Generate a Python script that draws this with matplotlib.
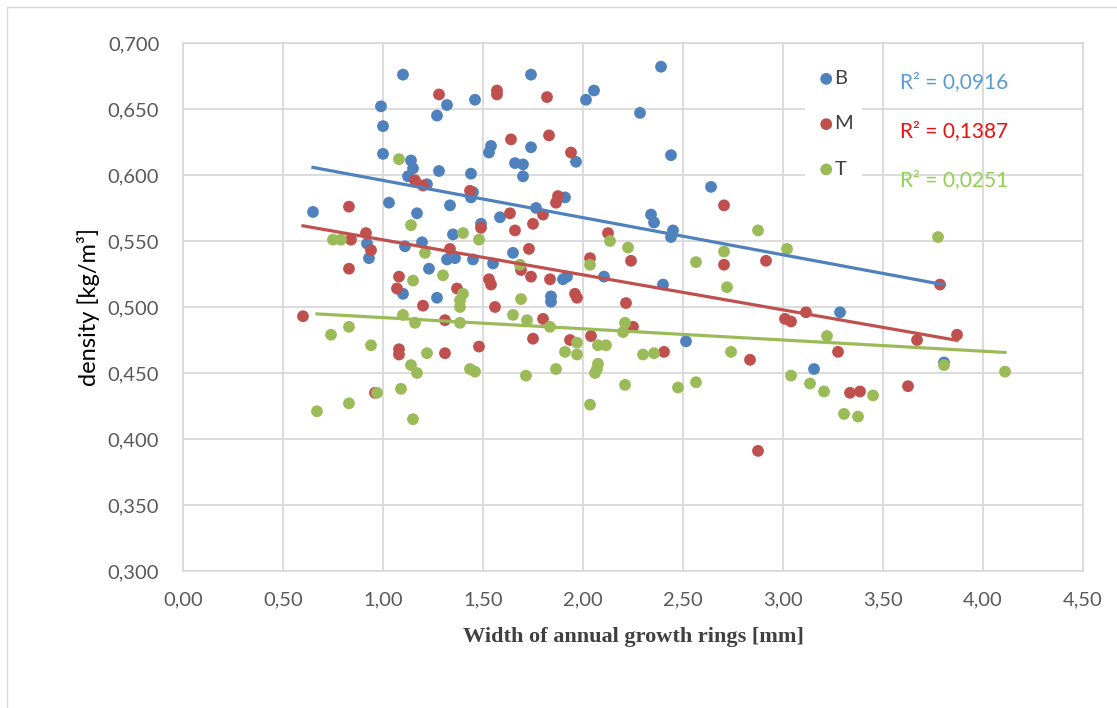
import numpy as np
import matplotlib

matplotlib.use('Agg')
import matplotlib.pyplot as plt
from matplotlib.ticker import FuncFormatter, MultipleLocator
from matplotlib.lines import Line2D

# ring width [mm] / density values
b_x = [0.65, 1.10, 0.99, 1.00, 1.00, 1.32, 1.27, 1.46, 1.14, 1.15, 1.28, 1.44, 1.125, 1.22,
       1.45, 1.44, 1.54, 1.53, 1.03, 1.335, 1.17, 1.49, 1.35, 0.92, 0.93, 1.11, 1.195, 1.32,
       1.36, 1.45, 1.23, 1.10, 1.27, 1.74, 2.015, 2.055, 2.39, 2.285, 1.74, 1.965, 2.44, 1.66,
       1.70, 1.70, 2.64, 1.91, 1.765, 1.585, 2.34, 2.355, 2.45, 2.44, 1.65, 1.55, 2.105, 2.40,
       1.90, 1.92, 1.84, 1.84, 2.515, 3.155, 3.285, 3.805]
b_y = [0.572, 0.676, 0.652, 0.637, 0.616, 0.653, 0.645, 0.657, 0.611, 0.605, 0.603, 0.601, 0.599, 0.593,
       0.587, 0.583, 0.622, 0.617, 0.579, 0.577, 0.571, 0.563, 0.555, 0.548, 0.537, 0.546, 0.549, 0.536,
       0.537, 0.536, 0.529, 0.510, 0.507, 0.676, 0.657, 0.664, 0.682, 0.647, 0.621, 0.610, 0.615, 0.609,
       0.608, 0.599, 0.591, 0.583, 0.575, 0.568, 0.570, 0.564, 0.558, 0.553, 0.541, 0.533, 0.523, 0.517,
       0.521, 0.523, 0.508, 0.504, 0.474, 0.453, 0.496, 0.458]

m_x = [1.28, 1.16, 1.20, 1.435, 0.83, 1.49, 0.84, 0.915, 0.94, 1.335, 0.83, 1.08, 1.07, 1.20,
       1.37, 1.53, 0.60, 1.31, 1.08, 1.08, 1.31, 1.48, 0.96, 1.57, 1.57, 1.82, 1.64, 1.83,
       1.94, 1.875, 1.865, 2.705, 1.80, 1.635, 1.66, 1.75, 2.125, 1.73, 2.035, 2.24, 2.705, 2.915,
       1.54, 1.74, 1.835, 1.69, 1.96, 1.97, 1.56, 1.80, 1.75, 2.215, 2.25, 2.04, 1.935, 2.405,
       2.835, 2.875, 3.01, 3.04, 3.115, 3.785, 3.275, 3.67, 3.87, 3.335, 3.385, 3.625]
m_y = [0.661, 0.596, 0.592, 0.588, 0.576, 0.560, 0.551, 0.556, 0.543, 0.544, 0.529, 0.523, 0.514, 0.501,
       0.514, 0.521, 0.493, 0.490, 0.468, 0.464, 0.465, 0.470, 0.435, 0.664, 0.661, 0.659, 0.627, 0.630,
       0.617, 0.584, 0.579, 0.577, 0.570, 0.571, 0.558, 0.563, 0.556, 0.544, 0.537, 0.535, 0.532, 0.535,
       0.517, 0.523, 0.521, 0.528, 0.510, 0.507, 0.500, 0.491, 0.476, 0.503, 0.485, 0.478, 0.475, 0.466,
       0.460, 0.391, 0.491, 0.489, 0.496, 0.517, 0.466, 0.475, 0.479, 0.435, 0.436, 0.440]

t_x = [1.08, 1.14, 1.40, 1.48, 0.75, 0.79, 1.21, 1.15, 1.30, 1.40, 1.385, 1.385, 1.10, 1.16,
       1.385, 0.83, 0.74, 0.94, 1.22, 1.14, 1.17, 1.435, 1.46, 0.97, 1.09, 0.83, 0.67, 1.15,
       2.875, 2.135, 2.225, 2.705, 3.02, 2.565, 2.035, 1.685, 1.69, 1.65, 1.72, 1.835, 2.21, 2.20,
       1.97, 1.91, 1.97, 2.075, 2.115, 2.075, 2.07, 2.06, 2.30, 2.355, 2.74, 1.715, 1.865, 2.21,
       2.475, 2.565, 2.035, 3.04, 3.135, 2.72, 3.775, 3.22, 3.805, 4.11, 3.205, 3.45, 3.305, 3.375]
t_y = [0.612, 0.562, 0.556, 0.551, 0.551, 0.551, 0.541, 0.520, 0.524, 0.510, 0.505, 0.500, 0.494, 0.488,
       0.488, 0.485, 0.479, 0.471, 0.465, 0.456, 0.450, 0.453, 0.451, 0.435, 0.438, 0.427, 0.421, 0.415,
       0.558, 0.550, 0.545, 0.542, 0.544, 0.534, 0.532, 0.532, 0.506, 0.494, 0.490, 0.485, 0.488, 0.481,
       0.473, 0.466, 0.464, 0.471, 0.471, 0.457, 0.453, 0.450, 0.464, 0.465, 0.466, 0.448, 0.453, 0.441,
       0.439, 0.443, 0.426, 0.448, 0.442, 0.515, 0.553, 0.478, 0.456, 0.451, 0.436, 0.433, 0.419, 0.417]

series = ["B", "M", "T"]
r2_labels = ["R² = 0,0916", "R² = 0,1387", "R² = 0,0251"]
colors = ["#4F81BD", "#C0504D", "#9BBB59"]
r2_colors = ["#5B9BD5", "#E81010", "#92D050"]
SANS = ["Lato", "DejaVu Sans"]

fig = plt.figure(figsize=(11.17, 7.08), dpi=100)
# outer chart border (only top and left edges are visible in the source)
fig.lines.append(Line2D([0.0063, 0.0063, 1.0], [0.0, 0.99, 0.99], transform=fig.transFigure,
                        color="#d9d9d9", linewidth=1))
ax = fig.add_axes([0.1638, 0.1935, 0.9696 - 0.1638, 0.9393 - 0.1935])

data = [(b_x, b_y), (m_x, m_y), (t_x, t_y)]
for (xs, ys), name, col in zip(data, series, colors):
    ax.scatter(xs, ys, s=72, color=col, edgecolors="none", label=name, zorder=3)

# linear trendlines over each series' x range
for (xs, ys), col in zip(data, colors):
    xs = np.array(xs)
    k, q = np.polyfit(xs, ys, 1)
    xx = np.array([xs.min(), xs.max()])
    ax.plot(xx, k * xx + q, color=col, linewidth=2.3, zorder=4)

ax.set_xlim(0, 4.5)
ax.set_ylim(0.3, 0.7)
ax.xaxis.set_major_locator(MultipleLocator(0.5))
ax.yaxis.set_major_locator(MultipleLocator(0.05))
ax.xaxis.set_major_formatter(FuncFormatter(lambda v, p: f"{v:.2f}".replace(".", ",")))
ax.yaxis.set_major_formatter(FuncFormatter(lambda v, p: f"{v:.3f}".replace(".", ",")))
ax.grid(True, color="#d9d9d9", linewidth=1.3, zorder=0)
ax.set_axisbelow(True)
for s in ax.spines.values():
    s.set_color("#d9d9d9")
    s.set_linewidth(1.3)
ax.tick_params(length=0, labelsize=14.5, labelcolor="#595959")
ax.tick_params(axis="y", pad=17)
ax.tick_params(axis="x", pad=15)
for lab in ax.get_xticklabels() + ax.get_yticklabels():
    lab.set_family(SANS)

ax.set_xlabel("Width of annual growth rings [mm]", family="Liberation Serif",
              fontweight="bold", fontsize=16, color="#404040", labelpad=13)
ax.set_ylabel("density [kg/m³]", fontsize=17, color="black", labelpad=6, family=SANS)

leg = ax.legend(loc="upper left", bbox_to_anchor=(0.68, 0.985), frameon=True,
                handletextpad=-0.2, labelspacing=1.4, borderpad=0.45,
                handlelength=1.2, prop={"family": SANS, "size": 14.5})
leg.get_frame().set_facecolor("white")
leg.get_frame().set_edgecolor("none")
leg.get_frame().set_alpha(1)
for t in leg.get_texts():
    t.set_color("#404040")

for lab, col, yy in zip(r2_labels, r2_colors, [0.926, 0.833, 0.741]):
    ax.text(0.797, yy, lab, transform=ax.transAxes, color=col, fontsize=15,
            family=SANS, va="center", zorder=5)

plt.savefig("out.png", dpi=100)
plt.close()
